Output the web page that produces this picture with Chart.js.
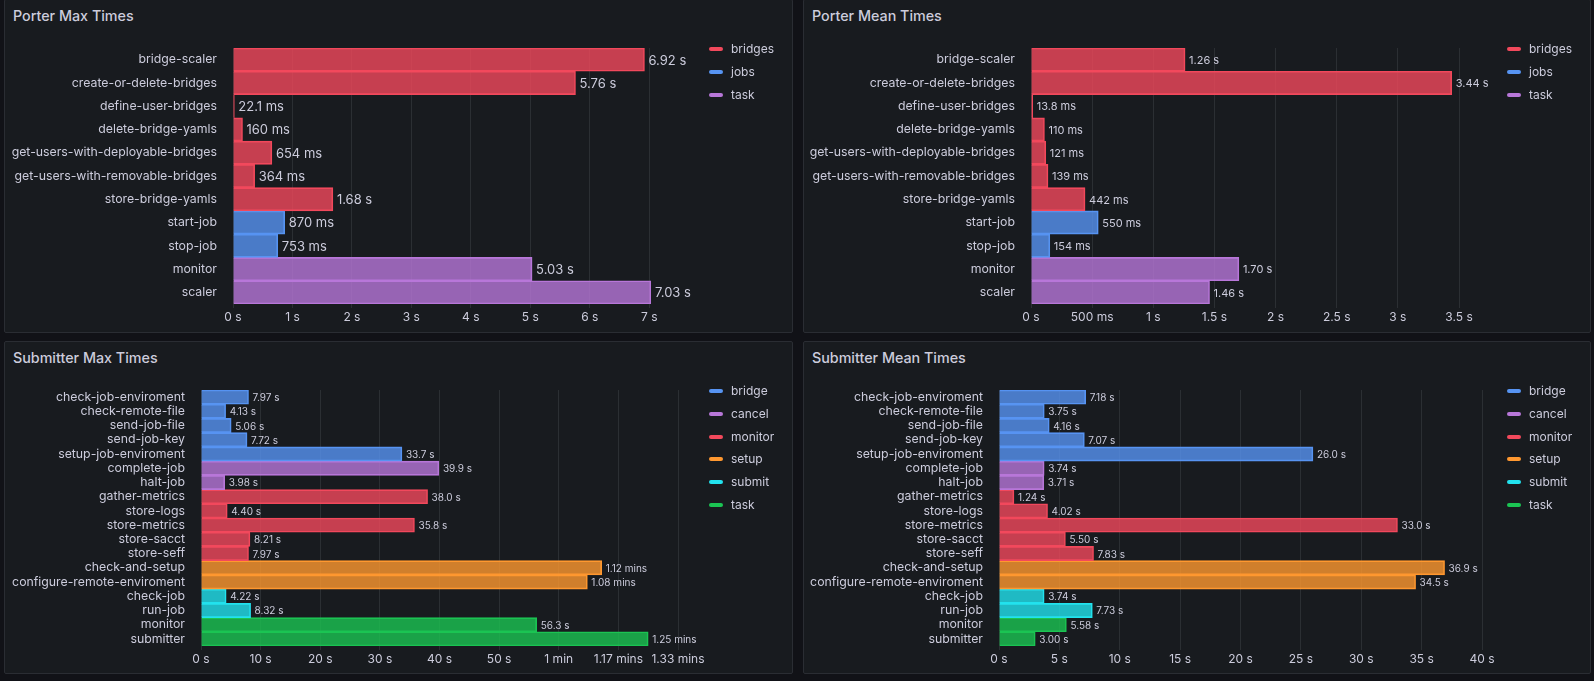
<!DOCTYPE html>
<html><head><meta charset="utf-8">
<script src="https://cdn.jsdelivr.net/npm/chart.js@4"></script>
<style>
html,body{margin:0;padding:0;background:#111217;width:1594px;height:681px;overflow:hidden;font-family:Inter,sans-serif;position:relative}
.panel{position:absolute;box-sizing:border-box;background:#181b1f;border:1px solid #2a2d33;border-radius:2px}
.title{position:absolute;color:#ccccdc;font-size:14.3px;font-weight:500;line-height:16px;white-space:nowrap}
canvas{position:absolute}
.li{position:absolute;color:#ccccdc;font-size:12px;line-height:14px;white-space:nowrap;padding-left:22px}
.li i{position:absolute;left:0;top:5px;width:14px;height:4px;border-radius:2px}
</style></head><body>
<script>
// ---------- DATA ----------
const porterCategories = ['bridge-scaler','create-or-delete-bridges','define-user-bridges','delete-bridge-yamls','get-users-with-deployable-bridges','get-users-with-removable-bridges','store-bridge-yamls','start-job','stop-job','monitor','scaler'];
const porterGroupOf = ['bridges','bridges','bridges','bridges','bridges','bridges','bridges','jobs','jobs','task','task'];
const porterGroups = ['bridges','jobs','task'];
const porterGroupColors = ['#F2495C','#5794F2','#B877D9'];
const porterMaxSeconds = [6.92, 5.76, 0.0221, 0.160, 0.654, 0.364, 1.68, 0.870, 0.753, 5.03, 7.03];
const porterMeanSeconds = [1.26, 3.44, 0.0138, 0.110, 0.121, 0.139, 0.442, 0.550, 0.154, 1.70, 1.46];
const porterMaxTicks = [0,1,2,3,4,5,6,7];
const porterMeanTicks = [0,0.5,1,1.5,2,2.5,3,3.5];

const submitterCategories = ['check-job-enviroment','check-remote-file','send-job-file','send-job-key','setup-job-enviroment','complete-job','halt-job','gather-metrics','store-logs','store-metrics','store-sacct','store-seff','check-and-setup','configure-remote-enviroment','check-job','run-job','monitor','submitter'];
const submitterGroupOf = ['bridge','bridge','bridge','bridge','bridge','cancel','cancel','monitor','monitor','monitor','monitor','monitor','setup','setup','submit','submit','task','task'];
const submitterGroups = ['bridge','cancel','monitor','setup','submit','task'];
const submitterGroupColors = ['#5794F2','#B877D9','#F2495C','#FF9830','#22E2EE','#1BC453'];
const submitterMaxSeconds = [7.97, 4.13, 5.06, 7.72, 33.7, 39.9, 3.98, 38.0, 4.40, 35.8, 8.21, 7.97, 67.2, 64.8, 4.22, 8.32, 56.3, 75.0];
const submitterMeanSeconds = [7.18, 3.75, 4.16, 7.07, 26.0, 3.74, 3.71, 1.24, 4.02, 33.0, 5.50, 7.83, 36.9, 34.5, 3.74, 7.73, 5.58, 3.00];
const submitterMaxTicks = [0,10,20,30,40,50,60,70,80];
const submitterMeanTicks = [0,5,10,15,20,25,30,35,40];

// ---------- LAYOUT ----------
const panels = [
  {title:'Porter Max Times', cats:porterCategories, groupOf:porterGroupOf, groups:porterGroups, colors:porterGroupColors, values:porterMaxSeconds, ticks:porterMaxTicks,
   panel:{x:4,y:-1,w:789,h:334}, plot:{l:233,t:48,r:651,b:304}, titlePos:{x:13,y:16}, legend:{x:709,y:49,step:23}, valueFont:13},
  {title:'Porter Mean Times', cats:porterCategories, groupOf:porterGroupOf, groups:porterGroups, colors:porterGroupColors, values:porterMeanSeconds, ticks:porterMeanTicks,
   panel:{x:803,y:-1,w:788,h:334}, plot:{l:1031,t:48,r:1459,b:304}, titlePos:{x:812,y:16}, legend:{x:1507,y:49,step:23}, valueFont:11},
  {title:'Submitter Max Times', cats:submitterCategories, groupOf:submitterGroupOf, groups:submitterGroups, colors:submitterGroupColors, values:submitterMaxSeconds, ticks:submitterMaxTicks,
   panel:{x:4,y:341,w:789,h:333}, plot:{l:201,t:390,r:678,b:646}, titlePos:{x:13,y:358}, legend:{x:709,y:391,step:22.8}, valueFont:10},
  {title:'Submitter Mean Times', cats:submitterCategories, groupOf:submitterGroupOf, groups:submitterGroups, colors:submitterGroupColors, values:submitterMeanSeconds, ticks:submitterMeanTicks,
   panel:{x:803,y:341,w:788,h:333}, plot:{l:999,t:390,r:1482,b:646}, titlePos:{x:812,y:358}, legend:{x:1507,y:391,step:22.8}, valueFont:10}
];

// ---------- FORMATTERS ----------
function trim(n){ return String(parseFloat(n.toFixed(2))); }
function fmtTick(v){
  if (v === 0) return '0 s';
  if (v < 1) return trim(v*1000) + ' ms';
  if (v < 60) return trim(v) + ' s';
  const m = v/60;
  return m === 1 ? '1 min' : trim(m) + ' mins';
}
function fmtValue(v){
  if (v < 1) return (v*1000).toPrecision(3) + ' ms';
  if (v < 60) return v.toPrecision(3) + ' s';
  return (v/60).toPrecision(3) + ' mins';
}
function rgba(hex, a){
  const n = parseInt(hex.slice(1),16);
  return 'rgba(' + ((n>>16)&255) + ',' + ((n>>8)&255) + ',' + (n&255) + ',' + a + ')';
}

Chart.defaults.font.family = 'Inter';
Chart.defaults.color = '#ccccdc';

const valueLabels = {
  id:'valueLabels',
  afterDatasetsDraw(chart, args, opts){
    const ctx = chart.ctx;
    ctx.save();
    ctx.font = opts.size + 'px Inter';
    ctx.fillStyle = '#ccccdc';
    ctx.textBaseline = 'middle';
    ctx.textAlign = 'left';
    chart.data.datasets.forEach((ds, di) => {
      const meta = chart.getDatasetMeta(di);
      meta.data.forEach((el, i) => {
        const v = ds.data[i];
        if (v === null || v === undefined) return;
        ctx.fillText(fmtValue(v), el.x + 4, el.y + 1);
      });
    });
    ctx.restore();
  }
};

panels.forEach(p => {
  const pd = document.createElement('div');
  pd.className = 'panel';
  Object.assign(pd.style, {left:p.panel.x+'px', top:p.panel.y+'px', width:p.panel.w+'px', height:p.panel.h+'px'});
  document.body.appendChild(pd);

  const t = document.createElement('div');
  t.className = 'title';
  t.textContent = p.title;
  Object.assign(t.style, {left:p.titlePos.x+'px', top:(p.titlePos.y-8)+'px'});
  document.body.appendChild(t);

  const cx = p.panel.x, cy = p.panel.y + 24, cw = p.panel.w, ch = p.panel.h - 24;
  const cv = document.createElement('canvas');
  cv.width = cw; cv.height = ch;
  Object.assign(cv.style, {left:cx+'px', top:cy+'px', width:cw+'px', height:ch+'px'});
  document.body.appendChild(cv);

  const yW = p.plot.l - cx;
  const xH = cy + ch - p.plot.b;
  const padTop = p.plot.t - cy;
  const padRight = cx + cw - p.plot.r;

  const datasets = p.groups.map((g, gi) => ({
    label: g,
    data: p.values.map((v, i) => p.groupOf[i] === g ? v : null),
    backgroundColor: rgba(p.colors[gi], 0.8),
    borderColor: p.colors[gi],
    borderWidth: 1,
    barPercentage: 1,
    categoryPercentage: 1,
    grouped: false
  }));

  const axisMax = Math.max(p.ticks[p.ticks.length-1], Math.max(...p.values));

  new Chart(cv, {
    type:'bar',
    data:{labels:p.cats, datasets},
    plugins:[valueLabels],
    options:{
      indexAxis:'y',
      responsive:false,
      animation:false,
      devicePixelRatio:1,
      layout:{padding:{top:padTop, right:padRight, left:0, bottom:0}},
      plugins:{legend:{display:false}, tooltip:{enabled:false}, valueLabels:{size:p.valueFont}},
      scales:{
        x:{
          type:'linear', min:0, max:axisMax,
          grid:{color:'rgba(240,250,255,0.09)', tickColor:'rgba(240,250,255,0.09)', tickLength:4, drawTicks:true},
          border:{display:false},
          ticks:{color:'#ccccdc', font:{size:12}, padding:2, maxRotation:0, autoSkip:false, callback:(v)=>fmtTick(v)},
          afterBuildTicks:(s)=>{ s.ticks = p.ticks.map(v=>({value:v})); },
          afterFit:(s)=>{ s.height = xH; }
        },
        y:{
          type:'category',
          grid:{display:false, drawTicks:false},
          border:{display:false},
          ticks:{color:'#ccccdc', font:{size:12.3}, padding:16, autoSkip:false},
          afterFit:(s)=>{ s.width = yW; }
        }
      }
    }
  });

  p.groups.forEach((g, gi) => {
    const li = document.createElement('div');
    li.className = 'li';
    li.innerHTML = '<i style="background:' + p.colors[gi] + '"></i>' + g;
    Object.assign(li.style, {left:p.legend.x+'px', top:(p.legend.y + gi*p.legend.step - 7)+'px'});
    document.body.appendChild(li);
  });
});
</script>
</body></html>
